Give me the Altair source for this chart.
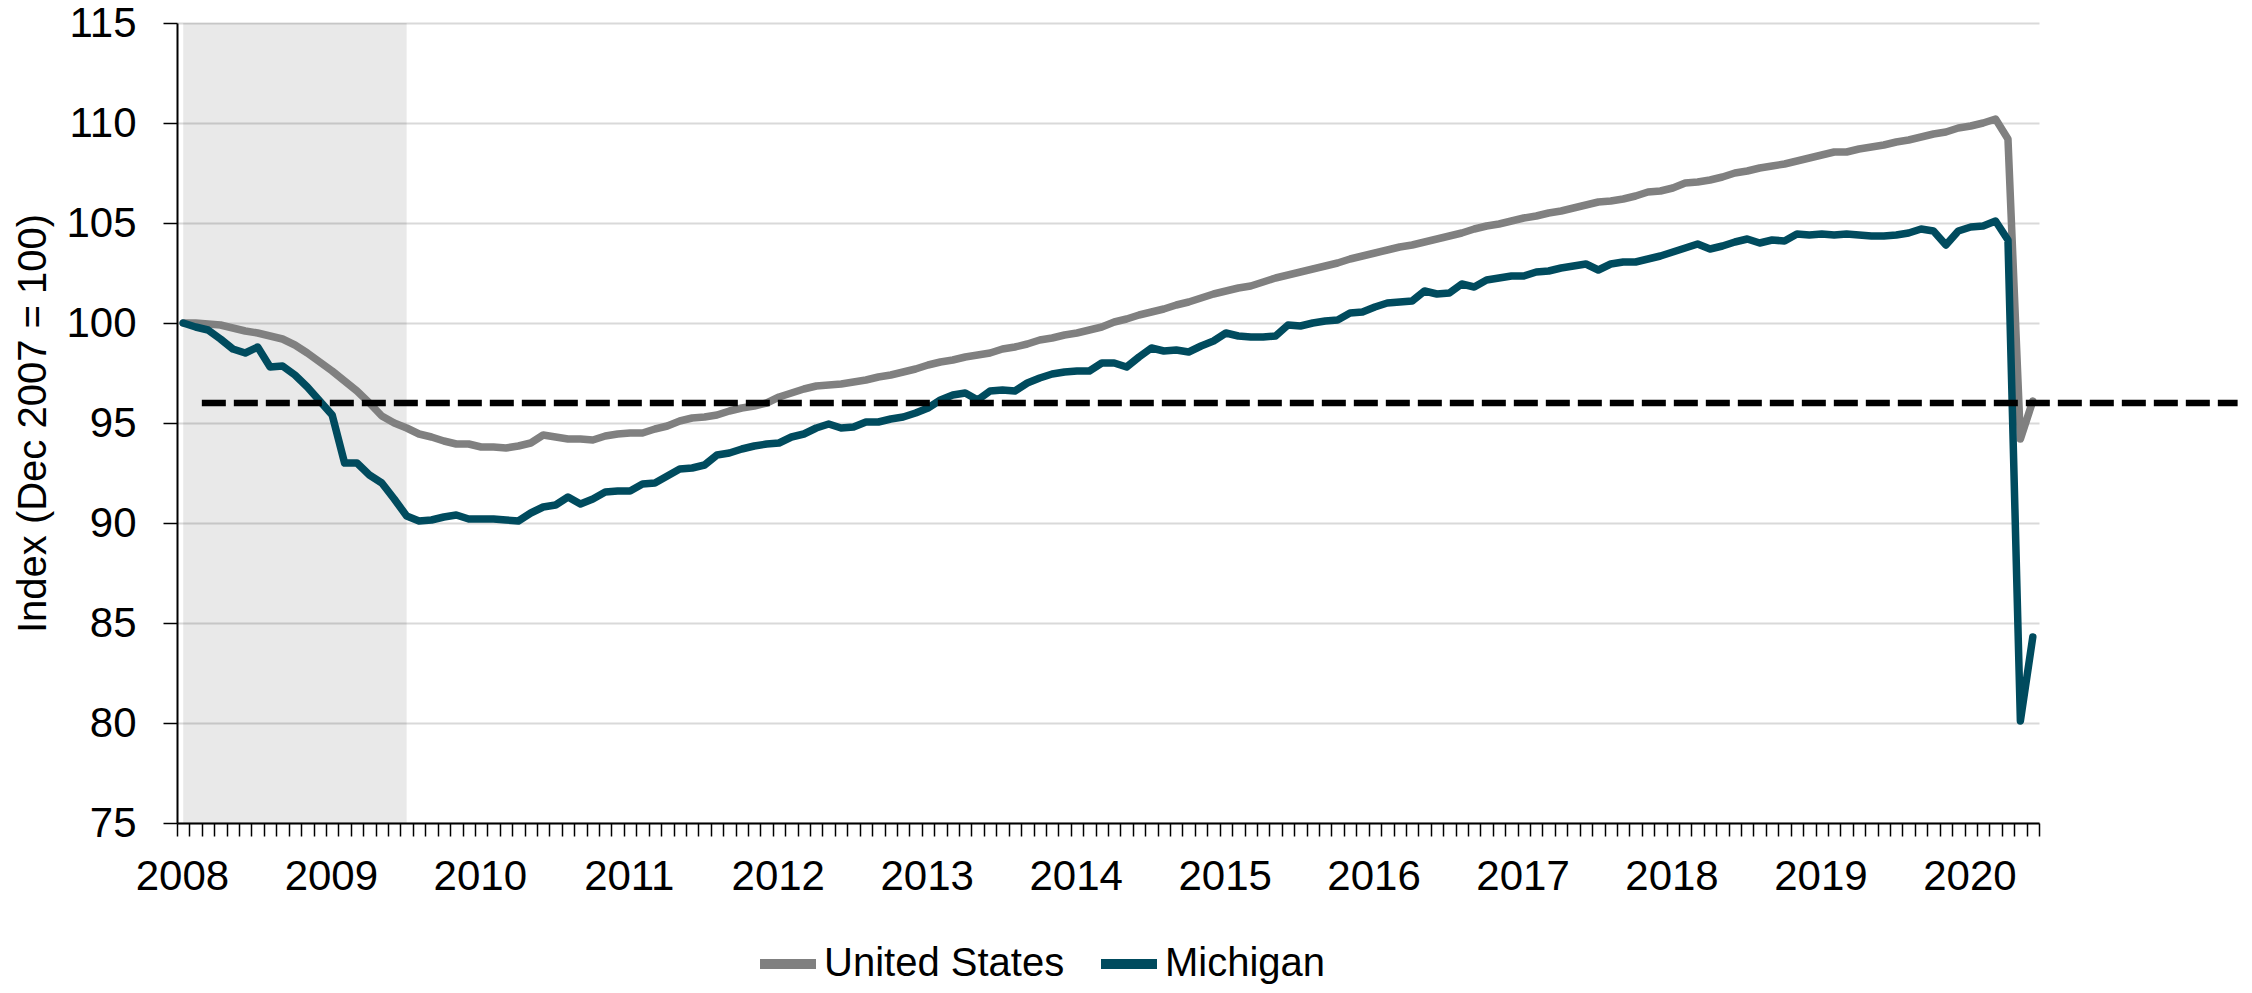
import json
import altair as alt
import pandas as pd

# ---------------- data ----------------
months = pd.period_range("2007-12", "2020-05", freq="M").strftime("%Y-%m").tolist()

us = [100.0, 100.0, 99.95, 99.9, 99.75, 99.6, 99.5, 99.35, 99.2, 98.9,
      98.5, 98.05, 97.6, 97.1, 96.6, 96.0, 95.35, 95.0, 94.75, 94.45,
      94.3, 94.1, 93.95, 93.95, 93.8, 93.8, 93.75, 93.85, 94.0, 94.4,
      94.3, 94.2, 94.2, 94.15, 94.35, 94.45, 94.5, 94.5, 94.7, 94.85,
      95.1, 95.25, 95.3, 95.4, 95.6, 95.75, 95.85, 96.0, 96.3, 96.5,
      96.7, 96.85, 96.9, 96.95, 97.05, 97.15, 97.3, 97.4, 97.55, 97.7,
      97.9, 98.05, 98.15, 98.3, 98.4, 98.5, 98.7, 98.8, 98.95, 99.15,
      99.25, 99.4, 99.5, 99.65, 99.8, 100.05, 100.2, 100.4, 100.55, 100.7,
      100.9, 101.05, 101.25, 101.45, 101.6, 101.75, 101.85, 102.05, 102.25, 102.4,
      102.55, 102.7, 102.85, 103.0, 103.2, 103.35, 103.5, 103.65, 103.8, 103.9,
      104.05, 104.2, 104.35, 104.5, 104.7, 104.85, 104.95, 105.1, 105.25, 105.35,
      105.5, 105.6, 105.75, 105.9, 106.05, 106.1, 106.2, 106.35, 106.55, 106.6,
      106.75, 107.0, 107.05, 107.15, 107.3, 107.5, 107.6, 107.75, 107.85, 107.95,
      108.1, 108.25, 108.4, 108.55, 108.55, 108.7, 108.8, 108.9, 109.05, 109.15,
      109.3, 109.45, 109.55, 109.75, 109.85, 110.0, 110.2, 109.2, 94.2, 96.1]

michigan = [100.0, 99.8, 99.65, 99.2, 98.7, 98.5, 98.8, 97.8, 97.85, 97.4,
            96.8, 96.1, 95.4, 93.0, 93.0, 92.4, 92.0, 91.2, 90.35, 90.1,
            90.15, 90.3, 90.4, 90.2, 90.2, 90.2, 90.15, 90.1, 90.5, 90.8,
            90.9, 91.3, 90.95, 91.2, 91.55, 91.6, 91.6, 91.95, 92.0, 92.35,
            92.7, 92.75, 92.9, 93.4, 93.5, 93.7, 93.85, 93.95, 94.0, 94.3,
            94.45, 94.75, 94.95, 94.75, 94.8, 95.05, 95.05, 95.2, 95.3, 95.5,
            95.75, 96.15, 96.4, 96.5, 96.15, 96.6, 96.65, 96.6, 97.0, 97.25,
            97.45, 97.55, 97.6, 97.6, 98.0, 98.0, 97.8, 98.3, 98.75, 98.6,
            98.65, 98.55, 98.85, 99.1, 99.5, 99.35, 99.3, 99.3, 99.35, 99.9,
            99.85, 100.0, 100.1, 100.15, 100.5, 100.55, 100.8, 101.0, 101.05, 101.1,
            101.6, 101.45, 101.5, 101.95, 101.8, 102.15, 102.25, 102.35, 102.35, 102.55,
            102.6, 102.75, 102.85, 102.95, 102.65, 102.95, 103.05, 103.05, 103.2, 103.35,
            103.55, 103.75, 103.95, 103.7, 103.85, 104.05, 104.2, 104.0, 104.15, 104.1,
            104.45, 104.4, 104.45, 104.4, 104.45, 104.4, 104.35, 104.35, 104.4, 104.5,
            104.7, 104.6, 103.9, 104.6, 104.8, 104.85, 105.1, 104.15, 80.1, 84.3]

series_names = ["United States", "Michigan"]
series_colors = ["#808080", "#004B5E"]
recession = ["2007-12", "2009-06"]
reference_level = 96
reference_span = ["2008-02", "2021-10"]
axis_end = "2020-06"
year_labels = [str(y) for y in range(2008, 2021)]
y_ticks = [75, 80, 85, 90, 95, 100, 105, 110, 115]
y_title = "Index (Dec 2007 = 100)"

FONT = "Liberation Sans, Arial, sans-serif"


def mindex(s):
    y, m = map(int, s.split("-"))
    return (y - 2007) * 12 + (m - 12)


rows = []
for name, vals in zip(series_names, [us, michigan]):
    for mo, v in zip(months, vals):
        rows.append({"month": mo, "pos": mindex(mo) + 0.5, "value": v, "series": name})
df = pd.DataFrame(rows)

rec_df = pd.DataFrame([{"start": mindex(recession[0]) + 0.5, "end": mindex(recession[1]) + 0.5}])
ref_df = pd.DataFrame([{"start": mindex(reference_span[0]), "end": mindex(reference_span[1]),
                        "level": reference_level}])

n_end = mindex(axis_end)
x_scale = alt.Scale(domain=[0, n_end], nice=False, zero=False)
y_scale = alt.Scale(domain=[y_ticks[0], y_ticks[-1]], nice=False, zero=False)

label_expr = ("datum.value % 12 == 1 ? " + json.dumps(year_labels) +
              "[(datum.value - 1) / 12] : ''")

x_axis = alt.Axis(
    values=list(range(0, n_end + 1)), grid=False, title=None,
    tickSize=13, tickWidth=1.5, tickColor="black",
    domainColor="black", domainWidth=2,
    labelExpr=label_expr, labelOffset=-7.5, labelPadding=20,
    labelFont=FONT, labelFontSize=42, labelColor="black",
    labelOverlap=False, labelFlush=False, labelBound=False,
)
y_axis = alt.Axis(
    values=y_ticks, grid=True, gridColor="#D9D9D9", gridWidth=2,
    tickSize=14, tickWidth=1.5, tickColor="black",
    domainColor="black", domainWidth=2,
    labelPadding=27, labelFont=FONT, labelFontSize=42, labelColor="black",
    title=y_title, titleFont=FONT, titleFontSize=40, titleFontWeight="normal",
    titleColor="black", titlePadding=12,
)

shade = alt.Chart(rec_df).mark_rect(color="black", opacity=0.085).encode(
    x=alt.X("start:Q", scale=x_scale, axis=x_axis),
    x2="end:Q",
)

lines = alt.Chart(df).mark_line(strokeWidth=7.5, strokeCap="round", strokeJoin="round").encode(
    x=alt.X("pos:Q", scale=x_scale, axis=x_axis),
    y=alt.Y("value:Q", scale=y_scale, axis=y_axis),
    color=alt.Color(
        "series:N",
        scale=alt.Scale(domain=series_names, range=series_colors),
        sort=series_names,
        legend=alt.Legend(
            title=None, orient="none", legendX=578, legendY=908, direction="horizontal",
            symbolType="stroke", symbolStrokeWidth=10, symbolSize=3136,
            labelFont=FONT, labelFontSize=40, labelColor="black", labelOffset=3,
            labelLimit=600, columnPadding=16,
        ),
    ),
    order=alt.Order("pos:Q"),
)

ref = alt.Chart(ref_df).mark_rule(color="black", strokeWidth=6.5, strokeDash=[24, 8]).encode(
    x=alt.X("start:Q", scale=x_scale, axis=x_axis),
    x2="end:Q",
    y=alt.Y("level:Q", scale=y_scale, axis=y_axis),
)

chart = alt.layer(shade, lines, ref).properties(
    width=1862, height=800,
    autosize=alt.AutoSizeParams(type="none"),
    padding={"left": 169, "top": 15, "right": 205, "bottom": 162},
).configure_view(stroke=None)

chart.save("out.html", embed_options={"renderer": "svg", "actions": False})
